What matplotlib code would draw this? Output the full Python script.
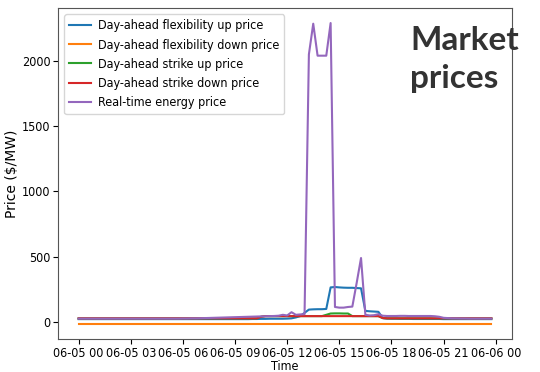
import matplotlib
matplotlib.use("Agg")
from matplotlib import pyplot as plt
import matplotlib.dates as mdates
import numpy as np
import pandas as pd

# 15-minute intervals over one day
times = pd.date_range("2021-06-05 00:00", periods=96, freq="15min")

flex_up = [
    22, 22, 22, 22, 22, 22, 22, 22, 22, 22, 22, 22,
    22, 22, 22, 22, 22, 22, 22, 22, 22, 22, 22, 22,
    22, 22, 22, 22, 22, 22, 22, 22, 22, 22, 22, 22,
    22, 22, 22, 22, 23, 23, 24, 24, 25, 25, 25, 25,
    26, 28, 35, 45, 70, 95, 97, 98, 98, 100, 265, 268,
    265, 263, 262, 262, 260, 258, 85, 82, 80, 78, 30, 26,
    25, 25, 24, 24, 24, 23, 23, 23, 23, 23, 23, 23,
    22, 22, 22, 22, 22, 22, 22, 22, 22, 22, 22, 22,
]

flex_down = [
    -15, -15, -15, -15, -15, -15, -15, -15, -15, -15, -15, -15,
    -15, -15, -15, -15, -15, -15, -15, -15, -15, -15, -15, -15,
    -15, -15, -15, -15, -15, -15, -15, -15, -15, -15, -15, -15,
    -15, -15, -15, -15, -15, -15, -15, -15, -15, -15, -15, -15,
    -15, -15, -15, -15, -15, -15, -15, -15, -15, -15, -15, -15,
    -15, -15, -15, -15, -15, -15, -15, -15, -15, -15, -15, -15,
    -15, -15, -15, -15, -15, -15, -15, -15, -15, -15, -15, -15,
    -15, -15, -15, -15, -15, -15, -15, -15, -15, -15, -15, -15,
]

strike_up = [
    28, 28, 28, 28, 28, 28, 28, 28, 28, 28, 28, 28,
    28, 28, 28, 28, 28, 28, 28, 28, 28, 28, 28, 28,
    28, 28, 28, 28, 28, 28, 28, 28, 28, 28, 28, 28,
    28, 28, 28, 28, 28, 28, 40, 45, 45, 45, 45, 45,
    45, 45, 45, 45, 45, 45, 45, 45, 45, 55, 65, 66,
    66, 65, 65, 45, 45, 45, 45, 45, 45, 45, 30, 28,
    28, 28, 28, 28, 28, 28, 28, 28, 28, 28, 28, 28,
    28, 28, 28, 28, 28, 28, 28, 28, 28, 28, 28, 28,
]

strike_down = [
    28, 28, 28, 28, 28, 28, 28, 28, 28, 28, 28, 28,
    28, 28, 28, 28, 28, 28, 28, 28, 28, 28, 28, 28,
    28, 28, 28, 28, 28, 28, 28, 28, 28, 28, 28, 28,
    28, 28, 28, 28, 28, 28, 40, 45, 45, 45, 45, 45,
    45, 45, 45, 45, 45, 45, 45, 45, 45, 45, 45, 45,
    45, 45, 45, 45, 45, 45, 45, 45, 45, 45, 30, 28,
    28, 28, 28, 28, 28, 28, 28, 28, 28, 28, 28, 28,
    28, 28, 28, 28, 28, 28, 28, 28, 28, 28, 28, 28,
]

rt_energy = [
    26, 26, 26, 26, 26, 26, 26, 26, 26, 26, 26, 26,
    26, 26, 26, 26, 26, 26, 26, 26, 26, 26, 26, 26,
    27, 27, 28, 28, 29, 30, 31, 32, 33, 34, 35, 36,
    37, 38, 39, 40, 41, 42, 43, 44, 45, 46, 48, 55,
    50, 75, 55, 58, 60, 2050, 2285, 2040, 2040, 2040, 2290, 115,
    110, 110, 115, 118, 300, 490, 55, 50, 52, 60, 48, 46,
    46, 46, 47, 47, 46, 46, 46, 46, 46, 46, 44, 40,
    32, 30, 28, 28, 27, 27, 26, 26, 26, 26, 26, 26,
]

labels = [
    "Day-ahead flexibility up price",
    "Day-ahead flexibility down price",
    "Day-ahead strike up price",
    "Day-ahead strike down price",
    "Real-time energy price",
]

plt.rcParams["font.stretch"] = "condensed"
plt.rcParams["font.size"] = 9

fig = plt.figure(figsize=(5.4, 3.72), dpi=100)
ax = fig.add_axes([58 / 540, 1 - 339 / 372, 454 / 540, 331 / 372])

for series, label in zip([flex_up, flex_down, strike_up, strike_down, rt_energy], labels):
    ax.plot(times, series, label=label, linewidth=1.5)

ax.xaxis.set_major_locator(mdates.HourLocator(byhour=range(0, 24, 3)))
ax.xaxis.set_major_formatter(mdates.DateFormatter("%m-%d %H"))
ax.set_yticks([0, 500, 1000, 1500, 2000])
ax.tick_params(labelsize=9, pad=2)

ax.set_xlabel("Time", labelpad=0)
ax.set_ylabel("Price ($/MW)", fontsize=10, fontstretch="normal", labelpad=2)
ax.legend(loc="upper left", fontsize=9, handlelength=1.7, handletextpad=0.6)

for spine in ax.spines.values():
    spine.set_color("#555555")

fig.text(410 / 540, 1 - 50 / 372, "Market", fontsize=24, fontweight="bold",
         family="Lato", fontstretch="normal", color="#333333", va="baseline")
fig.text(410 / 540, 1 - 88 / 372, "prices", fontsize=24, fontweight="bold",
         family="Lato", fontstretch="normal", color="#333333", va="baseline")

fig.savefig("out.png", dpi=100)
